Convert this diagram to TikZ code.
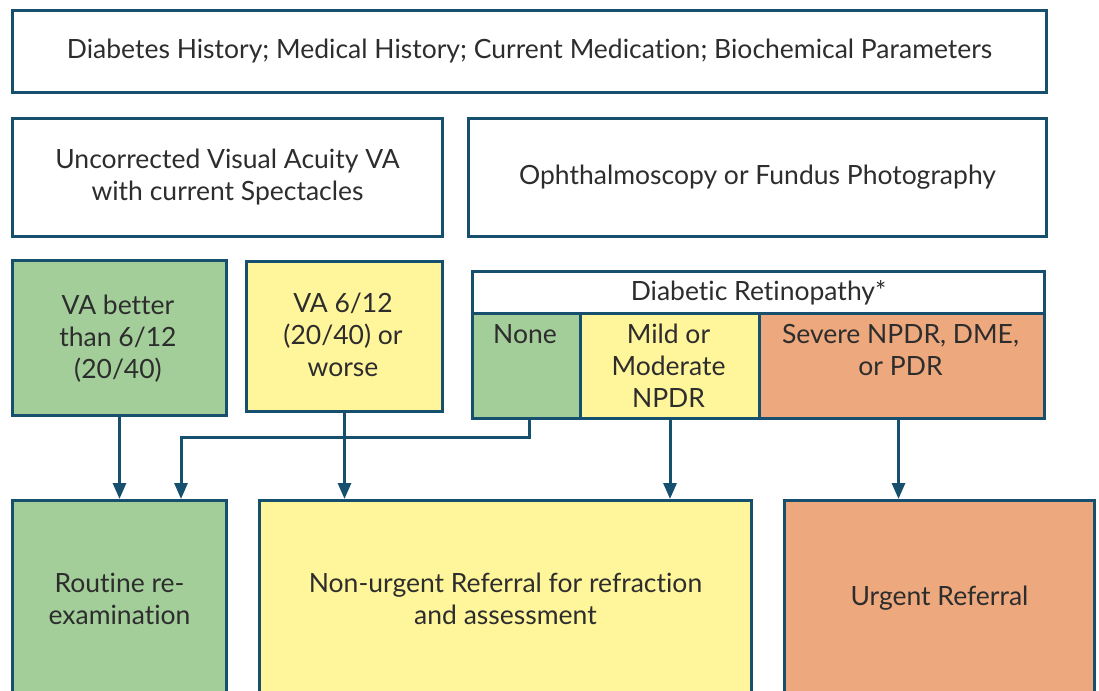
\documentclass[tikz,border=0pt]{standalone}
\usepackage{fontspec}
\setmainfont{Lato}[RawFeature={-liga;-dlig}]
\usetikzlibrary{arrows.meta}
\definecolor{bd}{RGB}{23,80,110}
\definecolor{gfill}{RGB}{163,206,154}
\definecolor{yfill}{RGB}{255,245,155}
\definecolor{ofill}{RGB}{237,168,125}
\definecolor{txt}{RGB}{45,45,45}
\begin{document}
\begin{tikzpicture}[x=1pt,y=-1pt,
  box/.style={draw=bd,line width=3pt,anchor=north west,inner sep=0pt,
    text=txt,align=center,font=\fontsize{26.5}{32}\selectfont},
  lbl/.style={text=txt,align=center,inner sep=0pt,font=\fontsize{26.5}{32}\selectfont},
  arr/.style={draw=bd,line width=3pt,-{Triangle[width=13pt,length=16pt]}}]
\useasboundingbox (0,0) rectangle (1099,690);
\clip (0,0) rectangle (1099,690);
\fill[white] (0,0) rectangle (1099,690);
% row 1
\node[box,minimum width=1034pt,minimum height=82pt] (hist) at (11,9)
  {Diabetes History; Medical History; Current Medication; Biochemical Parameters};
% row 2
\node[box,minimum width=430pt,minimum height=118pt] (va) at (11,117)
  {Uncorrected Visual Acuity VA\\with current Spectacles};
\node[box,minimum width=578pt,minimum height=118pt] (oph) at (467,117)
  {Ophthalmoscopy or Fundus Photography};
% row 3
\node[box,fill=gfill,minimum width=214pt,minimum height=155pt] (vagood) at (11,259) {};
\node[lbl] at (118,339) {VA better\\than 6/12\\(20/40)};
\node[box,fill=yfill,minimum width=196pt,minimum height=150pt] (vabad) at (245,260) {};
\node[lbl] at (343,335) {VA 6/12\\(20/40) or\\worse};
\node[box,fill=white,minimum width=572pt,minimum height=42pt] (dr) at (471,270)
  {Diabetic Retinopathy*};
\node[box,fill=gfill,minimum width=108pt,minimum height=105pt] (none) at (471,312) {};
\node[lbl] at (525,334) {None};
\node[box,fill=yfill,minimum width=179pt,minimum height=105pt] (mild) at (579,312) {};
\node[lbl] at (668.5,366) {Mild or\\Moderate\\NPDR};
\node[box,fill=ofill,minimum width=285pt,minimum height=105pt] (severe) at (758,312) {};
\node[lbl] at (900.5,350) {Severe NPDR, DME,\\or PDR};
% row 4
\node[box,fill=gfill,minimum width=214pt,minimum height=196pt] (routine) at (11,499)
  {Routine re-\\examination};
\node[box,fill=yfill,minimum width=492pt,minimum height=196pt] (nonurgent) at (258,499)
  {Non-urgent Referral for refraction\\and assessment};
\node[box,fill=ofill,minimum width=310pt,minimum height=196pt] (urgent) at (783,499)
  {Urgent Referral};
% connectors
\coordinate (j) at (181,437);
\draw[arr] (vagood.south) -- (vagood.south |- routine.north);
\draw[arr] ([xshift=3pt]none.south) |- (j) -- (j |- routine.north);
\draw[arr] (vabad.south) -- (vabad.south |- nonurgent.north);
\draw[arr] (mild.south) -- (mild.south |- nonurgent.north);
\draw[arr] ([xshift=-3.5pt]severe.south) -- ([xshift=-3.5pt]severe.south |- urgent.north);
\end{tikzpicture}
\end{document}
